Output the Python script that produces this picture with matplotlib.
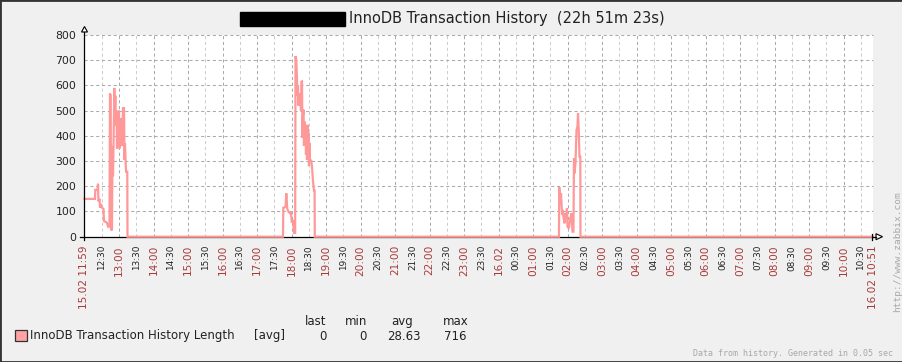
import matplotlib
matplotlib.use('Agg')
import matplotlib.pyplot as plt
from matplotlib.lines import Line2D
from matplotlib.patches import Rectangle, Polygon

W, H = 903, 362

# ---- data: minutes since 15.02 11:59:40, History length values ----
times_min = [
    0, 18.3, 18.8, 22.6, 23.5, 24.3, 26.1, 27.0, 28.7, 30.4, 33.0, 33.9, 37.4, 39.1,
    40.9, 43.5, 44.3, 45.6, 46.1, 47.8, 48.7, 49.6, 50.4, 51.8, 52.7, 53.6, 54.8,
    55.7, 56.5, 57.4, 58.3, 59.1, 60.0, 60.9, 61.7, 62.6, 63.5, 64.4, 65.2, 67.0,
    68.7, 69.6, 70.4, 72.2, 74.4, 74.8,
    345.2, 345.8, 349.6, 351.0, 352.7, 354.8, 357.4, 359.1, 360.4, 362.6, 364.4,
    366.4, 367.0, 368.3, 369.2, 370.4, 371.3, 372.2, 373.0, 374.8, 375.7, 376.5,
    377.4, 378.3, 379.1, 380.0, 380.9, 381.7, 382.6, 383.5, 384.3, 385.2, 386.1,
    387.0, 387.8, 388.7, 389.6, 390.4, 391.3, 392.2, 393.9, 395.7, 397.4, 399.1,
    400.2, 400.5,
    825.2, 825.7, 827.0, 827.8, 828.7, 829.9, 830.8, 832.2, 833.0, 834.8, 836.5,
    837.4, 839.1, 840.0, 842.6, 844.3, 847.0, 848.7, 850.4, 851.3, 852.2, 853.9,
    855.7, 857.4, 858.3, 859.5, 860.9, 862.3, 862.6,
    1371.4,
]
values = [
    150, 150, 186, 186, 210, 140, 150, 115, 130, 115, 110, 62, 58, 55,
    40, 40, 568, 560, 30, 25, 360, 240, 350, 590, 500, 560, 440,
    500, 350, 490, 460, 420, 500, 350, 460, 380, 470, 360, 365, 510,
    510, 305, 370, 258, 258, 0,
    0, 115, 118, 172, 110, 99, 93, 95, 60, 62, 15,
    15, 716, 700, 651, 560, 600, 520, 569, 540, 560, 500,
    615, 616, 392, 480, 504, 360, 457, 400, 440, 325, 400,
    305, 444, 320, 411, 280, 372, 300, 305, 278, 220, 183,
    183, 0,
    0, 196, 160, 126, 172, 119, 86, 106, 79, 53, 93,
    73, 112, 40, 33, 66, 93, 20, 20, 311, 251, 291,
    423, 437, 489, 430, 317, 317, 0,
    0,
]

period_min = 22 * 60 + 51 + 23 / 60
first_tick_min = 30 + 20 / 60   # 12:30 after start at 11:59:40
xtick_labels = [
    '12:30', '13:00', '13:30', '14:00', '14:30', '15:00', '15:30', '16:00', '16:30',
    '17:00', '17:30', '18:00', '18:30', '19:00', '19:30', '20:00', '20:30', '21:00',
    '21:30', '22:00', '22:30', '23:00', '23:30', '16.02', '00:30', '01:00', '01:30',
    '02:00', '02:30', '03:00', '03:30', '04:00', '04:30', '05:00', '05:30', '06:00',
    '06:30', '07:00', '07:30', '08:00', '08:30', '09:00', '09:30', '10:00', '10:30',
]
start_label = '15.02 11:59'
end_label = '16.02 10:51'
yticks = [0, 100, 200, 300, 400, 500, 600, 700, 800]

legend_name = 'InnoDB Transaction History Length'
stat_headers = ['last', 'min', 'avg', 'max']
stat_values = ['0', '0', '28.63', '716']

RED = '#A83A3A'
LINE = '#FF9999'

def fx(px):
    return px / W

def fy(py):
    return 1 - py / H

fig = plt.figure(figsize=(W / 100, H / 100), dpi=100, facecolor='#F0F0F0')
L, R, T, B = 84.5, 873, 35, 236.7
ax = fig.add_axes([fx(L), fy(B), fx(R) - fx(L), fy(T) - fy(B)])
ax.set_facecolor('white')
ax.set_xlim(0, period_min)
ax.set_ylim(0, 800)

for s in ax.spines.values():
    s.set_visible(False)

# grid
tick_pos = [first_tick_min + 30 * k for k in range(len(xtick_labels))]
for p, lab in zip(tick_pos, xtick_labels):
    major = lab.endswith(':00') or '.' in lab
    ax.axvline(p, color='#ABABAB' if major else '#CDCDCD', lw=0.75,
               ls=(0, (3, 2.6)), zorder=1)
for v in yticks[1:]:
    ax.axhline(v, color='#ABABAB', lw=0.75, ls=(0, (3, 2.6)), zorder=1,
               clip_on=False)

# bottom axis line (under the series)
ax.plot([0, period_min], [0, 0], color='black', lw=0.9, zorder=2, clip_on=False)

ax.plot(times_min, values, color=LINE, lw=1.6, zorder=3, clip_on=False,
        solid_joinstyle='miter')

# ticks
ax.set_yticks(yticks)
ax.set_yticklabels([str(v) for v in yticks])
ax.tick_params(axis='y', length=0, pad=6, labelsize=7.8, labelcolor='#222222')
all_pos = [0] + tick_pos + [period_min]
all_lab = [start_label] + xtick_labels + [end_label]
ax.set_xticks(all_pos)
ax.set_xticklabels(all_lab, rotation=90)
ax.tick_params(axis='x', length=0, pad=6)
for t, lab in zip(ax.get_xticklabels(), all_lab):
    major = lab.endswith(':00') or '.' in lab
    t.set_color(RED if major else '#222222')
    t.set_fontsize(7.6 if major else 6.4)
    t.set_va('top')
    t.set_ha('center')

# axis lines & arrows (figure pixel coords)
def fline(x0, y0, x1, y1, **kw):
    fig.add_artist(Line2D([fx(x0), fx(x1)], [fy(y0), fy(y1)],
                          transform=fig.transFigure, **kw))

fline(L, 32, L, 240, color='black', lw=0.9)
fline(80, B, L, B, color='black', lw=0.9)
fline(R, B, 876, B, color='black', lw=0.9)
fline(872, B - 3, 872, B + 3, color='black', lw=0.9)
fig.add_artist(Polygon([(fx(L - 3), fy(32)), (fx(L), fy(26.5)), (fx(L + 3), fy(32))],
                       closed=True, transform=fig.transFigure,
                       facecolor='white', edgecolor='black', lw=0.8))
fig.add_artist(Polygon([(fx(876), fy(B - 3)), (fx(882.5), fy(B)), (fx(876), fy(B + 3))],
                       closed=True, transform=fig.transFigure,
                       facecolor='white', edgecolor='black', lw=0.8))

# title
fig.add_artist(Rectangle((fx(240), fy(25.5)), fx(105), 13.2 / H,
                         transform=fig.transFigure, color='black'))
fig.text(fx(349), fy(18.8), 'InnoDB Transaction History  (22h 51m 23s)',
         ha='left', va='center', fontsize=10.5, color='#222222')

# legend
fig.add_artist(Rectangle((fx(15), fy(341)), fx(11.5), 11.5 / H,
                         transform=fig.transFigure, facecolor='#FFA3A3',
                         edgecolor='#333333', lw=0.9))
fig.text(fx(30), fy(336), legend_name, ha='left', va='center', fontsize=8.45,
         color='#222222')
fig.text(fx(254), fy(336), '[avg]', ha='left', va='center', fontsize=8.45,
         color='#222222')
hdr_x = [315.5, 356, 402.5, 456]
val_x = [323, 363, 404, 455.5]
for hx, h, vx, v in zip(hdr_x, stat_headers, val_x, stat_values):
    fig.text(fx(hx), fy(321.5), h, ha='center', va='center', fontsize=8.45,
             color='#222222')
    fig.text(fx(vx), fy(336), v, ha='center', va='center', fontsize=8.45,
             color='#222222')

# footer and url
fig.text(fx(893), fy(354), 'Data from history. Generated in 0.05 sec',
         ha='right', va='center', fontsize=6, family='DejaVu Sans Mono',
         color='#A8A8A8')
fig.text(fx(897.5), fy(312), 'http://www.zabbix.com', rotation=90,
         ha='center', va='bottom', fontsize=6.8, family='DejaVu Sans Mono',
         color='#A8A8A8')

# border
fig.add_artist(Rectangle((0, 0), 1, 1, transform=fig.transFigure, fill=False,
                         edgecolor='#333333', lw=2))

fig.savefig('out.png', dpi=100, facecolor=fig.get_facecolor())
